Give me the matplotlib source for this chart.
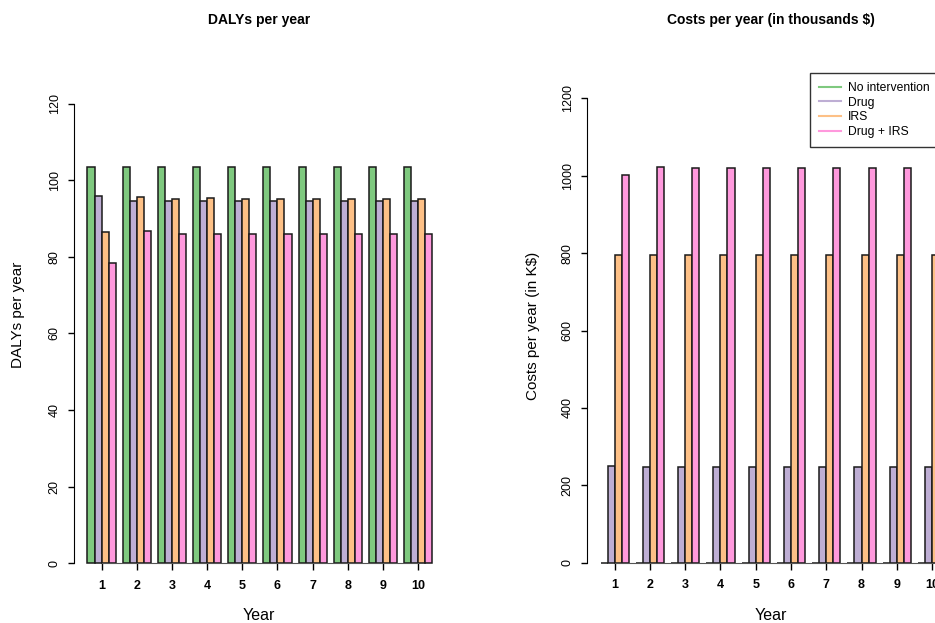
import numpy as np
import matplotlib.pyplot as plt
from matplotlib.lines import Line2D

plt.rcParams['font.family'] = ['Liberation Sans', 'DejaVu Sans']

years = list(range(1, 11))
series = ['No intervention', 'Drug', 'IRS', 'Drug + IRS']
colours = ['#7FC97F', '#BEAED4', '#FDC086', '#FF99DD']

# DALYs per year for each strategy
dalys_none = [103.6, 103.6, 103.6, 103.6, 103.6, 103.6, 103.6, 103.6, 103.6, 103.6]
dalys_drug = [96.0, 94.6, 94.6, 94.6, 94.6, 94.6, 94.6, 94.6, 94.6, 94.6]
dalys_irs = [86.5, 95.8, 95.1, 95.3, 95.1, 95.1, 95.1, 95.1, 95.1, 95.1]
dalys_both = [78.5, 86.8, 86.0, 86.0, 86.0, 86.0, 86.0, 86.0, 86.0, 86.0]

# costs per year, thousands of dollars
cost_none = [0, 0, 0, 0, 0, 0, 0, 0, 0, 0]
cost_drug = [251, 248, 248, 248, 248, 248, 248, 248, 248, 248]
cost_irs = [795, 795, 795, 795, 795, 795, 795, 795, 795, 795]
cost_both = [1001, 1023, 1021, 1021, 1021, 1021, 1021, 1021, 1021, 1021]

W, H = 935, 623
fig = plt.figure(figsize=(W / 100, H / 100), dpi=100)


def px_axes(left, right, top, bottom):
    return fig.add_axes([left / W, 1 - bottom / H, (right - left) / W, (bottom - top) / H])


def grouped_bars(ax, data, ymax, ystep):
    ng = len(years)
    centers = []
    for g in range(ng):
        start = 1 + g * 5
        centers.append(start + 2)
        for s, vals in enumerate(data):
            ax.bar(start + s, vals[g], width=1, align='edge', color=colours[s],
                   edgecolor='#1a1a1a', linewidth=1.1)
    ax.set_xlim(-0.96, 51.96)
    pad = ymax * 0.04
    ax.set_ylim(-pad, ymax + pad)
    for sp in ['top', 'right']:
        ax.spines[sp].set_visible(False)
    ax.spines['left'].set_bounds(0, ymax)
    ax.spines['bottom'].set_position(('data', 0))
    ax.spines['bottom'].set_bounds(centers[0], centers[-1])
    ax.spines['bottom'].set_color('#555555')
    ax.set_yticks(np.arange(0, ymax + 1, ystep))
    ax.set_yticklabels([str(int(v)) for v in np.arange(0, ymax + 1, ystep)],
                       rotation=90, va='center', fontsize=9)
    ax.set_xticks(centers)
    ax.set_xticklabels([str(y) for y in years], fontsize=9, fontweight='bold')
    ax.tick_params(axis='y', length=4.3, width=1, pad=5)
    ax.tick_params(axis='x', length=5, width=1, pad=7)
    ax.patch.set_alpha(0)


ax1 = px_axes(73.7, 446, 85.6, 581.4)
grouped_bars(ax1, [dalys_none, dalys_drug, dalys_irs, dalys_both], 120, 20)

ax2 = px_axes(586.7, 960, 79.7, 581.3)
grouped_bars(ax2, [cost_none, cost_drug, cost_irs, cost_both], 1200, 200)

# titles and axis labels
fig.text(259 / W, 1 - 20 / H, 'DALYs per year', ha='center', va='center',
         fontsize=10, fontweight='bold')
fig.text(771 / W, 1 - 20 / H, 'Costs per year (in thousands $)', ha='center',
         va='center', fontsize=10, fontweight='bold')
fig.text(259 / W, 1 - 616 / H, 'Year', ha='center', va='center', fontsize=11.5)
fig.text(771 / W, 1 - 616 / H, 'Year', ha='center', va='center', fontsize=11.5)
fig.text(18 / W, 1 - 315 / H, 'DALYs per year', ha='center', va='center',
         rotation=90, fontsize=11)
fig.text(533 / W, 1 - 326 / H, 'Costs per year (in K$)', ha='center', va='center',
         rotation=90, fontsize=11)

handles = [Line2D([0], [0], color=c, lw=1.5) for c in colours]
leg = fig.legend(handles, series, loc='upper left',
                 bbox_to_anchor=(810 / W, 1 - 73 / H), fontsize=8.7,
                 frameon=True, fancybox=False, edgecolor='black',
                 handlelength=1.8, handletextpad=0.6, labelspacing=0.22,
                 borderpad=0.75, borderaxespad=0)
leg.get_frame().set_linewidth(1.0)

fig.savefig('out.png', dpi=100)
